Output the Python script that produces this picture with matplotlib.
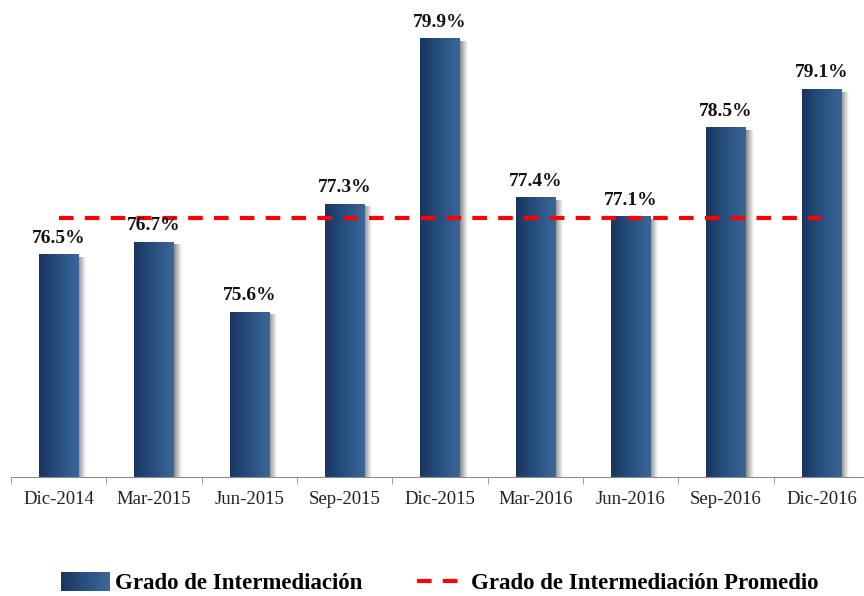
import matplotlib.pyplot as plt
import numpy as np
from matplotlib.colors import LinearSegmentedColormap
from matplotlib.patches import Patch
from matplotlib.lines import Line2D
from matplotlib.legend_handler import HandlerPatch

periods = ["Dic-2014", "Mar-2015", "Jun-2015", "Sep-2015", "Dic-2015",
           "Mar-2016", "Jun-2016", "Sep-2016", "Dic-2016"]
grado = [76.5, 76.7, 75.6, 77.3, 79.9, 77.4, 77.1, 78.5, 79.1]
promedio = 77.07

plt.rcParams["font.family"] = ["Liberation Serif", "DejaVu Serif"]

bar_cmap = LinearSegmentedColormap.from_list("bar", ["#1a3560", "#27507f", "#3a6699"])
shadow_cmap = LinearSegmentedColormap.from_list("shadow", ["#8a8a8a", "#ffffff"])

fig = plt.figure(figsize=(8.64, 5.96), dpi=100)
ax = fig.add_axes([11 / 864, 119 / 596, 858 / 864, 477 / 596])

x = np.arange(len(periods))
width = 0.41
y0 = 73.0

grad = np.linspace(0, 1, 64).reshape(1, -1)

# soft shadow on the right side of each bar
for xi, v in zip(x, grado):
    ax.imshow(grad, cmap=shadow_cmap, aspect="auto",
              extent=(xi + width / 2, xi + width / 2 + 0.075, y0, v - 0.05),
              zorder=1, interpolation="bilinear")

bars = ax.bar(x, [v - y0 for v in grado], width=width, bottom=y0,
              color="none", edgecolor="none", zorder=2)
for b in bars:
    im = ax.imshow(grad, cmap=bar_cmap, aspect="auto",
                   extent=(b.get_x(), b.get_x() + b.get_width(), b.get_y(),
                           b.get_y() + b.get_height()),
                   zorder=2, interpolation="bilinear")
    im.set_clip_path(b)

for xi, v in zip(x, grado):
    ax.annotate(f"{v:.1f}%", (xi, v), xytext=(0, 5.5), textcoords="offset points",
                ha="center", va="bottom", fontsize=14, fontweight="bold",
                color="#111111", zorder=4)

ax.plot([x[0], x[-1]], [promedio, promedio], color="#ff0000", lw=3,
        dashes=(3.5, 2.7), zorder=3)

ax.set_xlim(-0.5, len(periods) - 0.5)
ax.set_ylim(y0, 80.5)
for s in ["top", "right", "left"]:
    ax.spines[s].set_visible(False)
ax.spines["bottom"].set_color("#8c8c8c")
ax.set_yticks([])
ax.set_xticks(x)
ax.set_xticklabels(periods, fontsize=13.5, color="#222222")
ax.tick_params(axis="x", length=0, pad=10)
ax.set_xticks(np.arange(-0.5, len(periods), 1.0), minor=True)
ax.tick_params(axis="x", which="minor", length=5, color="#8c8c8c")


class GradientHandler(HandlerPatch):
    def create_artists(self, legend, orig_handle, xdescent, ydescent,
                       width, height, fontsize, trans):
        arts = []
        n = 20
        for i in range(n):
            c = bar_cmap(i / (n - 1))
            r = plt.Rectangle((-xdescent + width * i / n, -ydescent - 2),
                              width / n + 0.3, height + 2, facecolor=c,
                              edgecolor="none", transform=trans)
            arts.append(r)
        return arts


h_bar = Patch(facecolor="#27507f")
h_line = Line2D([0], [0], color="#ff0000", lw=3, dashes=(3.5, 2.7))
fig.legend([h_bar, h_line], ["Grado de Intermediación", "Grado de Intermediación Promedio"],
           handler_map={h_bar: GradientHandler()},
           loc="center", bbox_to_anchor=(440 / 864, 1 - 583 / 596), ncol=2,
           frameon=False, prop={"weight": "bold", "size": 16.5},
           handlelength=2.1, handletextpad=0.25, columnspacing=2.4)

fig.savefig("out.png", dpi=100)
